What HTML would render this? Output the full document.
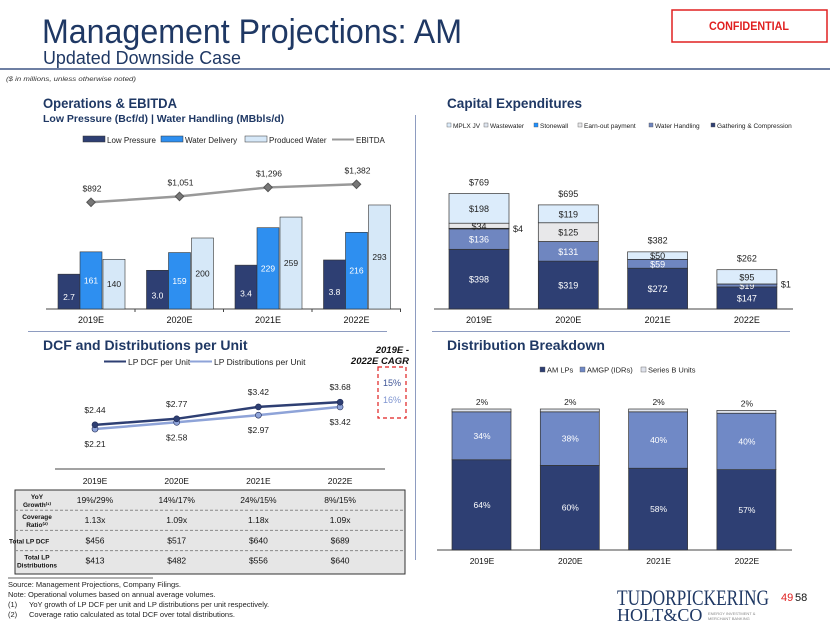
<!DOCTYPE html>
<html><head><meta charset="utf-8"><style>
body{margin:0;background:#fff;}
svg{display:block;font-family:"Liberation Sans",sans-serif;}
</style></head><body>
<svg id="s" width="830" height="623" viewBox="0 0 830 623" xmlns="http://www.w3.org/2000/svg">
<text x="42" y="43" font-size="34" fill="#1f3864" textLength="420" lengthAdjust="spacingAndGlyphs">Management Projections: AM</text>
<text x="43" y="64" font-size="18" fill="#1f3864" textLength="198" lengthAdjust="spacingAndGlyphs">Updated Downside Case</text>
<rect x="672" y="10" width="155" height="32" fill="#fff" stroke="#e02020" stroke-width="1.5"/>
<text x="749" y="30" font-size="12" font-weight="bold" fill="#e02020" text-anchor="middle" textLength="80" lengthAdjust="spacingAndGlyphs">CONFIDENTIAL</text>
<rect x="0" y="68" width="830" height="2" fill="#6e7fa3"/>
<text x="6" y="81" font-size="6.5" font-style="italic" fill="#333" textLength="130" lengthAdjust="spacingAndGlyphs">($ in millions, unless otherwise noted)</text>
<line x1="415.5" y1="115" x2="415.5" y2="560" stroke="#8e9cc0" stroke-width="1"/>
<line x1="28" y1="331.5" x2="387" y2="331.5" stroke="#8e9cc0" stroke-width="1"/>
<line x1="432" y1="331.5" x2="790" y2="331.5" stroke="#8e9cc0" stroke-width="1"/>

<text x="43" y="108" font-size="14" font-weight="bold" fill="#1f3864" textLength="134" lengthAdjust="spacingAndGlyphs">Operations &amp; EBITDA</text>
<text x="43" y="122" font-size="10.5" font-weight="bold" fill="#1f3864">Low Pressure (Bcf/d) | Water Handling (MBbls/d)</text>
<text x="447" y="108" font-size="14" font-weight="bold" fill="#1f3864" textLength="135" lengthAdjust="spacingAndGlyphs">Capital Expenditures</text>
<text x="43" y="350" font-size="14" font-weight="bold" fill="#1f3864">DCF and Distributions per Unit</text>
<text x="447" y="350" font-size="14" font-weight="bold" fill="#1f3864">Distribution Breakdown</text>

<text x="409" y="353" font-size="9.5" font-weight="bold" font-style="italic" text-anchor="end" fill="#111">2019E -</text>
<text x="409" y="364" font-size="9.5" font-weight="bold" font-style="italic" text-anchor="end" fill="#111">2022E CAGR</text>
<rect x="378" y="367" width="28" height="51" fill="none" stroke="#e02020" stroke-width="1.2" stroke-dasharray="4,3"/>
<text x="392" y="386" font-size="9" text-anchor="middle" fill="#3f5597">15%</text>
<text x="392" y="403" font-size="9" text-anchor="middle" fill="#7f95d1">16%</text>

<line x1="8" y1="578" x2="153" y2="578" stroke="#333" stroke-width="0.7"/>
<g font-size="7.5" fill="#222">
<text x="8" y="587">Source: Management Projections, Company Filings.</text>
<text x="8" y="597">Note: Operational volumes based on annual average volumes.</text>
<text x="8" y="607">(1)</text><text x="29" y="607">YoY growth of LP DCF per unit and LP distributions per unit respectively.</text>
<text x="8" y="617">(2)</text><text x="29" y="617">Coverage ratio calculated as total DCF over total distributions.</text>
</g>
<text x="617" y="605" font-family="Liberation Serif,serif" font-size="22" fill="#1f3864" textLength="152" lengthAdjust="spacingAndGlyphs">TUDORPICKERING</text>
<text x="617" y="621" font-family="Liberation Serif,serif" font-size="18" fill="#1f3864">HOLT&amp;CO</text>
<text x="708" y="615" font-size="4" fill="#888">ENERGY INVESTMENT &amp;</text>
<text x="708" y="620" font-size="4" fill="#888">MERCHANT BANKING</text>
<text x="781" y="601" font-size="11" fill="#e02020">49</text>
<text x="795" y="601" font-size="11" fill="#111">58</text>
</svg>
<script>
const years=["2019E","2020E","2021E","2022E"];
const lowPressure=[2.7,3.0,3.4,3.8];
const waterDelivery=[161,159,229,216];
const producedWater=[140,200,259,293];
const ebitda=[892,1051,1296,1382];
const capexSeriesNames=["Gathering & Compression","Water Handling","Stonewall","Earn-out payment","Wastewater","MPLX JV"];
const capexGC=[398,319,272,147];
const capexWH=[136,131,59,19];
const capexStonewall=[4,0,0,1];
const capexEarnout=[34,125,0,0];
const capexWastewater=[0,0,0,0];
const capexMPLX=[198,119,50,95];
const capexTotals=[769,695,382,262];
const dcfPerUnit=[2.44,2.77,3.42,3.68];
const distPerUnit=[2.21,2.58,2.97,3.42];
const amLPs=[64,60,58,57];
const amgp=[34,38,40,40];
const seriesB=[2,2,2,2];
const tableRowLabels=[["YoY","Growth⁽¹⁾"],["Coverage","Ratio⁽²⁾"],["Total LP DCF"],["Total LP","Distributions"]];
const yoyGrowth=["19%/29%","14%/17%","24%/15%","8%/15%"];
const coverage=["1.13x","1.09x","1.18x","1.09x"];
const totalDCF=["$456","$517","$640","$689"];
const totalDist=["$413","$482","$556","$640"];

const S=document.getElementById('s');const NS="http://www.w3.org/2000/svg";
function mk(tag,a,t){const e=document.createElementNS(NS,tag);for(const k in a)e.setAttribute(k,a[k]);if(t!==undefined)e.textContent=t;S.appendChild(e);return e;}
const NAVY="#2e3f73",WD="#2e8ff0",PW="#d6e8f8",MID="#6f86c0",LIGHTNAVY="#8ea3d8";

// ---- Operations chart
const opsX=i=>91+i*88.5, opsBase=309;
const lpY=v=>v*12.9, wY=v=>v*0.355, ebY=v=>235-v*0.0367;
let ax=mk('line',{x1:46,y1:opsBase,x2:401,y2:opsBase,stroke:'#444','stroke-width':1});


years.forEach((y,i)=>{
 const c=opsX(i);
 let t=mk('text',{x:c,y:323,'font-size':9,'text-anchor':'middle',fill:'#111'},y);
 
 
 let tk=mk('line',{x1:c+44,y1:opsBase,x2:c+44,y2:opsBase+3,stroke:'#444'});
 
 
 const specs=[[lowPressure[i],lpY,NAVY,'#fff',-33,'bar-low-pressure',lowPressure[i].toFixed(1)],[waterDelivery[i],wY,WD,'#fff',-11,'bar-water-delivery',waterDelivery[i]],[producedWater[i],wY,PW,'#222',12,'bar-produced-water',producedWater[i]]];
 specs.forEach(s=>{const h=s[1](s[0]);
  let r=mk('rect',{x:c+s[4],y:opsBase-h,width:22,height:h,fill:s[2],stroke:'#333','stroke-width':0.6});
  
  
  let l=mk('text',{x:c+s[4]+11,y:opsBase-h/2+3+(s[5]=='bar-low-pressure'?h*0.15:0),'font-size':8.5,'text-anchor':'middle',fill:s[3]},s[6]);
  
  
 });
});
let pts=ebitda.map((v,i)=>opsX(i)+','+ebY(v)).join(' ');
let pl=mk('polyline',{points:pts,fill:'none',stroke:'#999','stroke-width':2.5});


ebitda.forEach((v,i)=>{const x=opsX(i),y=ebY(v);
 let d=mk('rect',{x:x-3,y:y-3,width:6,height:6,fill:'#777',stroke:'#555',transform:`rotate(45 ${x} ${y})`});
 
 
 let l=mk('text',{x:x+1,y:y-11,'font-size':8.5,'text-anchor':'middle',fill:'#222'},'$'+v.toLocaleString('en-US'));
 
 
});
// ops legend
[[83,NAVY,'Low Pressure'],[161,WD,'Water Delivery'],[245,PW,'Produced Water']].forEach(s=>{
 let r=mk('rect',{x:s[0],y:136,width:22,height:6,fill:s[1],stroke:'#333','stroke-width':0.5});
 
 
 let t=mk('text',{x:s[0]+24,y:143,'font-size':8,fill:'#222'},s[2]);
 
 
});
let ll=mk('line',{x1:332,y1:139.5,x2:354,y2:139.5,stroke:'#999','stroke-width':2});


let lt=mk('text',{x:356,y:143,'font-size':8,fill:'#222'},'EBITDA');



// ---- Capex chart
const cxX=i=>449+i*89.3, cxBase=309, cxS=v=>v*0.15;
let cax=mk('line',{x1:434,y1:cxBase,x2:793,y2:cxBase,stroke:'#444'});


const capexSeries=[capexGC,capexWH,capexStonewall,capexEarnout,capexWastewater,capexMPLX];
const capexFill=[NAVY,MID,'#1e3a6e','#e8e8ea','#dfe6f0','#dcecfb'];
const capexText=['#fff','#fff','#222','#222','#222','#222'];
years.forEach((y,i)=>{
 const x=cxX(i);let acc=0;
 let t=mk('text',{x:x+30,y:323,'font-size':9,'text-anchor':'middle',fill:'#111'},y);
 
 
 capexSeries.forEach((arr,k)=>{const v=arr[i];if(!v)return;const h=cxS(v);const top=cxBase-cxS(acc+v);
  let r=mk('rect',{x:x,y:top,width:60,height:h,fill:capexFill[k],stroke:'#333','stroke-width':0.7});
  
  
  acc+=v;
  if(v>=10){let l=mk('text',{x:x+30,y:top+h/2+3.5,'font-size':9,'text-anchor':'middle',fill:capexText[k]},'$'+v);
   
   }
  else{let l=mk('text',{x:x+64,y:top+h/2+3.5,'font-size':9,fill:'#222'},'$'+v);
   
   }
 });
 let tl=mk('text',{x:x+30,y:cxBase-cxS(capexTotals[i])-8,'font-size':9,'text-anchor':'middle',fill:'#222'},'$'+capexTotals[i]);
 
 
});
const capexLegend=[[447,'#dcecfb','MPLX JV'],[484,'#dfe6f0','Wastewater'],[534,'#1e90ff','Stonewall'],[578,'#e8e8ea','Earn-out payment'],[649,MID,'Water Handling'],[711,NAVY,'Gathering & Compression']];
capexLegend.forEach(s=>{
 let r=mk('rect',{x:s[0],y:123,width:4,height:4,fill:s[1],stroke:'#555','stroke-width':0.4});
 
 
 let t=mk('text',{x:s[0]+6,y:128,'font-size':6.5,fill:'#222'},s[2]);
 
 
});

// ---- DCF chart
const dX=i=>95+i*81.7, dY=v=>469.5-v*18.3;
let dax=mk('line',{x1:55,y1:469,x2:385,y2:469,stroke:'#444'});


years.forEach((y,i)=>{
 let t=mk('text',{x:dX(i),y:484,'font-size':8.5,'text-anchor':'middle',fill:'#111'},y);
 
 
});
[[distPerUnit,LIGHTNAVY,'dist-line',1],[dcfPerUnit,NAVY,'dcf-line',-1]].forEach(s=>{
 let p=mk('polyline',{points:s[0].map((v,i)=>dX(i)+','+dY(v)).join(' '),fill:'none',stroke:s[1],'stroke-width':2.5});
 
 
 s[0].forEach((v,i)=>{
  let c=mk('circle',{cx:dX(i),cy:dY(v),r:3,fill:s[1],stroke:'#1f2a55','stroke-width':0.6});
  
  
  let l=mk('text',{x:dX(i),y:s[3]<0?dY(v)-12:dY(v)+18,'font-size':8.5,'text-anchor':'middle',fill:'#222'},'$'+v.toFixed(2));
  
  
 });
});
[[104,NAVY,'LP DCF per Unit'],[190,LIGHTNAVY,'LP Distributions per Unit']].forEach(s=>{
 let l=mk('line',{x1:s[0],y1:361.5,x2:s[0]+22,y2:361.5,stroke:s[1],'stroke-width':2});
 
 
 let t=mk('text',{x:s[0]+24,y:365,'font-size':8.5,fill:'#222'},s[2]);
 
 
});
// table
let tb=mk('rect',{x:15,y:490,width:390,height:84,fill:'#e6e6e6',stroke:'#333','stroke-width':1});


const rows=[yoyGrowth,coverage,totalDCF,totalDist];
rows.forEach((r,k)=>{
 const yc=500+k*20.2;
 if(k>0){let ln=mk('line',{x1:15,y1:yc-10,x2:405,y2:yc-10,stroke:'#888','stroke-dasharray':'3,2'});
  
  }
 const lab=tableRowLabels[k];
 lab.forEach((s,j)=>{let t=mk('text',{x:k==2?9:37,y:yc+(lab.length==1?3:(j==0?-1:7)),'font-size':6.5,'font-weight':'bold','text-anchor':k==2?'start':'middle',fill:'#111'},s);
  
  });
 r.forEach((v,i)=>{let t=mk('text',{x:dX(i),y:yc+3,'font-size':8.5,'text-anchor':'middle',fill:'#111'},v);
  
  });
});

// ---- Distribution breakdown
const bX=i=>452+i*88.3, bBase=550, bS=v=>v*1.41;
let bax=mk('line',{x1:437,y1:bBase,x2:792,y2:bBase,stroke:'#444'});


years.forEach((y,i)=>{
 const x=bX(i);let acc=0;
 let t=mk('text',{x:x+30,y:564,'font-size':8.5,'text-anchor':'middle',fill:'#111'},y);
 
 
 [[amLPs[i],NAVY,'#fff'],[amgp[i],'#7089c6','#fff'],[seriesB[i],'#dfe3ec','#222']].forEach((s,k)=>{
  const h=bS(s[0]);const top=bBase-bS(acc+s[0]);acc+=s[0];
  let r=mk('rect',{x:x,y:top,width:59,height:h,fill:s[1],stroke:'#333','stroke-width':0.7});
  
  
  let l=mk('text',{x:x+30,y:k==2?top-4:top+h/2+3,'font-size':8.5,'text-anchor':'middle',fill:k==2?'#222':s[2]},s[0]+'%');
  
  
 });
});
[[540,NAVY,'AM LPs'],[580,'#7089c6','AMGP (IDRs)'],[641,'#dfe3ec','Series B Units']].forEach(s=>{
 let r=mk('rect',{x:s[0],y:367,width:5,height:5,fill:s[1],stroke:'#555','stroke-width':0.4});
 
 
 let t=mk('text',{x:s[0]+7,y:372.5,'font-size':7.5,fill:'#222'},s[2]);
 
 
});
</script>
</body></html>
